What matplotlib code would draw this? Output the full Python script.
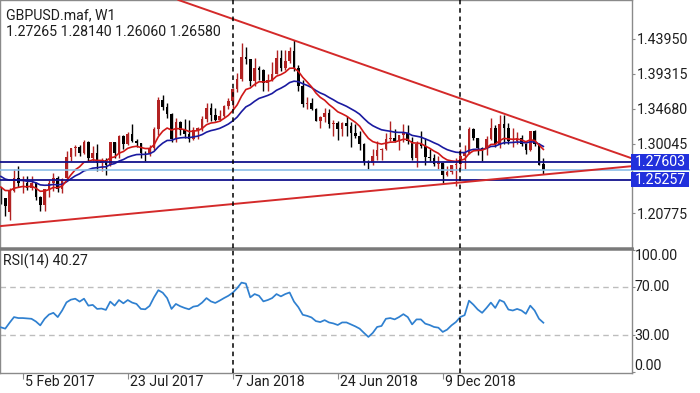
import numpy as np
import pandas as pd
import matplotlib
matplotlib.use("Agg")
import matplotlib.pyplot as plt
from matplotlib.transforms import blended_transform_factory
from matplotlib.patches import Rectangle

plt.rcParams['font.family'] = ['Roboto', 'DejaVu Sans']

# ---------------- data ----------------
symbol_title = "GBPUSD.maf, W1"
last_ohlc_text = "1.27265 1.28140 1.26060 1.26580"
first_week = "2017-01-01"   # weekly bars (MT4 weeks start on Sunday)

opens = [1.2340, 1.2280, 1.2100, 1.2370, 1.2550, 1.2480, 1.2485, 1.2410, 1.2475, 1.2290,
         1.2185, 1.2395, 1.2475, 1.2550, 1.2400, 1.2545, 1.2820, 1.2945, 1.2960, 1.2880,
         1.3030, 1.2810, 1.2885, 1.2745, 1.2780, 1.2720, 1.3020, 1.2880, 1.3100, 1.3000,
         1.3135, 1.3040, 1.3010, 1.2880, 1.2875, 1.2945, 1.3200, 1.3590, 1.3495, 1.3400,
         1.3065, 1.3290, 1.3190, 1.3135, 1.3060, 1.3190, 1.3210, 1.3330, 1.3480, 1.3380,
         1.3320, 1.3375, 1.3505, 1.3565, 1.3725, 1.3860, 1.4155, 1.4125, 1.3830, 1.4010,
         1.3985, 1.3815, 1.3850, 1.3930, 1.4140, 1.4015, 1.4100, 1.4240, 1.4015, 1.3770,
         1.3530, 1.3550, 1.3470, 1.3310, 1.3355, 1.3410, 1.3265, 1.3275, 1.3195, 1.3280,
         1.3235, 1.3140, 1.3110, 1.2995, 1.2760, 1.2740, 1.2835, 1.2925, 1.2935, 1.3070,
         1.3080, 1.3035, 1.3120, 1.3150, 1.3045, 1.2815, 1.2995, 1.2975, 1.2825, 1.2810,
         1.2735, 1.2740, 1.2585, 1.2630, 1.2715, 1.2735, 1.2840, 1.2880, 1.3195, 1.3075,
         1.2940, 1.2930, 1.3065, 1.3215, 1.3005, 1.3260, 1.3210, 1.3035, 1.3040, 1.3085,
         1.2995, 1.2920, 1.3170, 1.3005, 1.27265]
highs = [1.2433, 1.2285, 1.2417, 1.2673, 1.2706, 1.2580, 1.2580, 1.2570, 1.2500, 1.2310,
         1.2400, 1.2520, 1.2615, 1.2570, 1.2545, 1.2905, 1.2950, 1.2990, 1.2990, 1.3048,
         1.3045, 1.2975, 1.3000, 1.2815, 1.2815, 1.3030, 1.3030, 1.3115, 1.3125, 1.3165,
         1.3265, 1.3070, 1.3010, 1.2905, 1.2980, 1.3225, 1.3620, 1.3655, 1.3545, 1.3410,
         1.3340, 1.3300, 1.3335, 1.3320, 1.3225, 1.3230, 1.3365, 1.3550, 1.3550, 1.3475,
         1.3455, 1.3515, 1.3615, 1.3745, 1.3940, 1.4345, 1.4285, 1.4130, 1.4145, 1.4035,
         1.4000, 1.3930, 1.4090, 1.4245, 1.4245, 1.4245, 1.4290, 1.4377, 1.4045, 1.3850,
         1.3620, 1.3615, 1.3475, 1.3365, 1.3475, 1.3470, 1.3315, 1.3310, 1.3290, 1.3365,
         1.3290, 1.3260, 1.3175, 1.3010, 1.2780, 1.2930, 1.3045, 1.2950, 1.3145, 1.3300,
         1.3200, 1.3125, 1.3260, 1.3255, 1.3090, 1.3045, 1.3175, 1.3075, 1.2930, 1.2865,
         1.2840, 1.2750, 1.2705, 1.2720, 1.2815, 1.2930, 1.2990, 1.3220, 1.3215, 1.3080,
         1.2965, 1.3110, 1.3350, 1.3245, 1.3380, 1.3385, 1.3280, 1.3215, 1.3165, 1.3120,
         1.3010, 1.3175, 1.3185, 1.3010, 1.28140]
lows = [1.2198, 1.2040, 1.1986, 1.2360, 1.2430, 1.2345, 1.2385, 1.2385, 1.2250, 1.2110,
        1.2110, 1.2300, 1.2380, 1.2365, 1.2350, 1.2515, 1.2775, 1.2840, 1.2845, 1.2860,
        1.2775, 1.2770, 1.2635, 1.2635, 1.2590, 1.2700, 1.2810, 1.2810, 1.2930, 1.2980,
        1.3030, 1.2960, 1.2810, 1.2775, 1.2840, 1.2915, 1.3120, 1.3455, 1.3340, 1.3030,
        1.3030, 1.3120, 1.3080, 1.3020, 1.3050, 1.3060, 1.3170, 1.3290, 1.3300, 1.3300,
        1.3310, 1.3355, 1.3460, 1.3460, 1.3685, 1.3835, 1.4065, 1.3765, 1.3765, 1.3855,
        1.3710, 1.3710, 1.3840, 1.3925, 1.3975, 1.3985, 1.4070, 1.3965, 1.3710, 1.3490,
        1.3460, 1.3450, 1.3305, 1.3205, 1.3285, 1.3205, 1.3100, 1.3050, 1.3105, 1.3100,
        1.2960, 1.3080, 1.2915, 1.2725, 1.2662, 1.2725, 1.2785, 1.2785, 1.2920, 1.3045,
        1.3030, 1.2920, 1.3030, 1.3005, 1.2785, 1.2695, 1.2950, 1.2725, 1.2775, 1.2705,
        1.2660, 1.2477, 1.2580, 1.2600, 1.2438, 1.2670, 1.2670, 1.2860, 1.3050, 1.2850,
        1.2775, 1.2855, 1.3055, 1.2960, 1.2945, 1.3005, 1.3000, 1.2960, 1.3000, 1.2975,
        1.2865, 1.2905, 1.2970, 1.2715, 1.26060]
closes = [1.2280, 1.2175, 1.2370, 1.2550, 1.2480, 1.2485, 1.2410, 1.2475, 1.2290, 1.2185,
          1.2395, 1.2475, 1.2550, 1.2400, 1.2540, 1.2820, 1.2945, 1.2960, 1.2880, 1.3030,
          1.2810, 1.2885, 1.2745, 1.2780, 1.2720, 1.3020, 1.2880, 1.3100, 1.3000, 1.3135,
          1.3040, 1.3010, 1.2880, 1.2875, 1.2945, 1.3200, 1.3590, 1.3495, 1.3400, 1.3065,
          1.3290, 1.3190, 1.3135, 1.3060, 1.3190, 1.3210, 1.3330, 1.3480, 1.3380, 1.3320,
          1.3375, 1.3505, 1.3565, 1.3725, 1.3860, 1.4155, 1.4125, 1.3830, 1.4010, 1.3985,
          1.3815, 1.3850, 1.3930, 1.4140, 1.4015, 1.4100, 1.4240, 1.4015, 1.3770, 1.3530,
          1.3550, 1.3470, 1.3310, 1.3355, 1.3410, 1.3265, 1.3275, 1.3195, 1.3280, 1.3235,
          1.3140, 1.3110, 1.2995, 1.2760, 1.2740, 1.2835, 1.2925, 1.2935, 1.3070, 1.3080,
          1.3035, 1.3120, 1.3150, 1.3045, 1.2815, 1.2995, 1.2975, 1.2825, 1.2810, 1.2735,
          1.2740, 1.2585, 1.2630, 1.2715, 1.2735, 1.2840, 1.2880, 1.3195, 1.3075, 1.2940,
          1.2930, 1.3065, 1.3215, 1.3005, 1.3260, 1.3210, 1.3035, 1.3040, 1.3085, 1.2995,
          1.2920, 1.3170, 1.3005, 1.2720, 1.26580]
# closes of the weeks scrolled off the left edge (Jul-Dec 2016), used by the moving averages
pre_closes = [1.2950, 1.3220, 1.3110, 1.3215, 1.3040, 1.2930, 1.3080, 1.3170, 1.3280, 1.3265,
              1.3075, 1.2965, 1.2975, 1.2430, 1.2190, 1.2230, 1.2190, 1.2480, 1.2590, 1.2385,
              1.2470, 1.2745, 1.2560, 1.2345, 1.2280, 1.2340]

rsi_values = [36.5, 35.4, 40.3, 44.9, 44.1, 44.1, 43.8, 43.5, 41.3, 38.1,
              43.5, 47.0, 48.4, 44.9, 50.3, 57.0, 59.2, 60.0, 57.6, 60.0,
              54.3, 54.9, 51.6, 51.9, 50.8, 57.6, 54.3, 58.9, 56.2, 58.9,
              56.8, 55.7, 51.6, 51.3, 54.1, 61.1, 67.0, 64.9, 60.5, 51.6,
              55.7, 53.8, 52.4, 51.3, 53.5, 54.1, 56.8, 60.5, 57.8, 56.5,
              58.4, 60.5, 62.4, 64.9, 68.6, 73.2, 72.4, 61.1, 63.8, 62.4,
              57.8, 58.9, 60.5, 63.8, 61.9, 63.8, 65.1, 57.6, 53.0, 46.8,
              45.9, 44.6, 41.6, 40.8, 42.4, 40.5, 39.7, 38.4, 40.5, 40.5,
              38.9, 37.3, 35.4, 31.9, 28.6, 31.9, 36.8, 37.6, 43.5, 44.1,
              43.0, 44.9, 47.3, 44.9, 38.9, 43.0, 43.0, 39.5, 38.4, 36.8,
              36.2, 32.7, 34.6, 38.1, 40.8, 44.9, 46.5, 58.4, 55.1, 51.1,
              48.4, 52.4, 56.8, 52.4, 58.9, 57.3, 51.1, 50.3, 51.6, 50.3,
              47.6, 54.3, 50.3, 43.5, 40.27]
rsi_label = "RSI(14) 40.27"
rsi_levels = [30, 70]
rsi_tick_labels = ["100.00", "70.00", "30.00", "0.00"]

resistance_level = 1.27603
support_level = 1.25257
bid_price = 1.26580

upper_trend = [("2018-04-15", 1.4377), ("2019-03-17", 1.3402)]
lower_trend = [("2017-01-15", 1.1919), ("2018-12-30", 1.2482)]

price_ticks = [1.20775, 1.25410, 1.30045, 1.34680, 1.39315, 1.43950]
date_ticks = ["2017-02-05", "2017-07-23", "2018-01-07", "2018-06-24", "2018-12-09"]
date_labels = ["5 Feb 2017", "23 Jul 2017", "7 Jan 2018", "24 Jun 2018", "9 Dec 2018"]
year_separators = ["2018-01-07", "2019-01-06"]

# ---------------- styling ----------------
BULL = "#B22222"
BEAR = "#000000"
MA_FAST_C = "#D01818"
MA_SLOW_C = "#1A1AA0"
TREND_C = "#D42A2A"
LEVEL_C = "#12128C"
BID_C = "#8CBFE8"
BOX_C = "#2130DC"
RSI_C = "#2F80D0"
SPINE_C = "#8A8A8A"
TXT_C = "#1E1E1E"
FS = 10.2

W, H = 700, 393
fig = plt.figure(figsize=(W / 100, H / 100), dpi=100, facecolor="white")
right_px = 632
ax = fig.add_axes([0, 1 - 248 / H, right_px / W, 248 / H])
rax = fig.add_axes([0, 1 - 372.5 / H, right_px / W, (372.5 - 249) / H])

n = len(closes)
x = np.arange(n)
t0 = pd.Timestamp(first_week)


def widx(d):
    return (pd.Timestamp(d) - t0).days / 7.0


o = np.array(opens)
h = np.array(highs)
l = np.array(lows)
c = np.array(closes)
up = c >= o
cols = np.where(up, BULL, BEAR)

# moving averages
all_close = pd.Series(list(pre_closes) + list(closes))
ma_fast = all_close.ewm(span=10, adjust=False).mean().to_numpy()[len(pre_closes):]
ma_slow = all_close.ewm(span=21, adjust=False).mean().to_numpy()[len(pre_closes):]

# candles
ax.vlines(x, l, h, colors=cols, lw=1.0, zorder=2)
body_b = np.minimum(o, c)
body_h = np.maximum(np.abs(c - o), 0.0005)
ax.bar(x, body_h, bottom=body_b, width=0.62, color=cols, linewidth=0, zorder=2.1)

ax.plot(x, ma_slow, color=MA_SLOW_C, lw=1.2, zorder=3)
ax.plot(x, ma_fast, color=MA_FAST_C, lw=1.2, zorder=3.1)

# horizontal levels
ax.axhline(resistance_level, color=LEVEL_C, lw=1.3, zorder=3.5)
ax.axhline(support_level, color=LEVEL_C, lw=1.3, zorder=3.5)
bt = blended_transform_factory(ax.transAxes, ax.transData)
ax.plot([0, 1.09], [bid_price, bid_price], transform=bt, color=BID_C, lw=1.2,
        clip_on=False, zorder=3.4)

# trend lines
for pts in (upper_trend, lower_trend):
    (d1, p1), (d2, p2) = pts
    ax.axline((widx(d1), p1), (widx(d2), p2), color=TREND_C, lw=1.4, zorder=4)

# axes limits (x in week index)
x_left = -0.2
x_right = x_left + right_px / 4.375
ax.set_xlim(x_left, x_right)
rax.set_xlim(x_left, x_right)
ax.set_ylim(1.16161, 1.49135)
rax.set_ylim(-0.6, 100.8)

# level boxes
for lvl, txt in ((resistance_level, "1.27603"), (support_level, "1.25257")):
    ax.add_patch(Rectangle((0.9984, lvl - 0.01025), 0.0918, 0.0205, transform=bt,
                           facecolor=BOX_C, edgecolor="none", clip_on=False, zorder=6))
    ax.text(1.005, lvl, txt, transform=bt, color="white", fontsize=FS,
            va="center", ha="left", zorder=7, clip_on=False)

# price axis
ax.yaxis.tick_right()
ax.set_yticks(price_ticks)
ax.set_yticklabels([("" if abs(p - 1.25410) < 1e-6 else f"{p:.5f}") for p in price_ticks])
ax.tick_params(axis="y", direction="out", length=2.5, width=0.8, color=SPINE_C,
               pad=1.0, labelsize=FS, labelcolor=TXT_C)
ax.set_xticks([])

for a in (ax, rax):
    for s in a.spines.values():
        s.set_color(SPINE_C)
        s.set_linewidth(1.0)
ax.spines["bottom"].set_linewidth(1.8)
ax.spines["bottom"].set_color("#7A7A7A")
rax.spines["top"].set_linewidth(1.8)
rax.spines["top"].set_color("#7A7A7A")

# RSI panel
rax.plot(x, rsi_values, color=RSI_C, lw=1.25, zorder=3)
for lv in rsi_levels:
    rax.axhline(lv, color="#BDBDBD", lw=1.0, dashes=(4, 3), zorder=1)
rax.yaxis.tick_right()
rax.set_yticks([0, 30, 70, 100])
rax.set_yticklabels([])
rax.tick_params(axis="y", direction="out", length=2.5, width=0.8, color=SPINE_C)
for lab, ypx in zip(rsi_tick_labels, (256, 287, 336.5, 366)):
    fig.text(634.5 / W, 1 - ypx / H, lab, fontsize=FS, color=TXT_C, va="center", ha="left")

rax.set_xticks([widx(d) for d in date_ticks])
rax.set_xticklabels([])
rax.tick_params(axis="x", direction="out", length=4, width=0.8, color=SPINE_C)
xt = blended_transform_factory(rax.transData, fig.transFigure)
for d, lab in zip(date_ticks, date_labels):
    rax.text(widx(d) + 0.6, 1 - 382 / H, lab, transform=xt, fontsize=FS,
             color=TXT_C, va="center", ha="left", clip_on=False)

# year separators
for d in year_separators:
    for a in (ax, rax):
        a.axvline(widx(d), color="black", lw=1.1, dashes=(3, 2.5), zorder=5)

# header texts
fig.text(6 / W, 1 - 15.5 / H, symbol_title, fontsize=FS, color=TXT_C, va="center", ha="left")
fig.text(6 / W, 1 - 32 / H, last_ohlc_text, fontsize=FS, color=TXT_C, va="center", ha="left")
rax.text(3 / right_px, 1 - (261 - 249) / (372.5 - 249), rsi_label, transform=rax.transAxes,
         fontsize=FS, color=TXT_C, va="center", ha="left")

fig.savefig("out.png", dpi=100, facecolor="white")
